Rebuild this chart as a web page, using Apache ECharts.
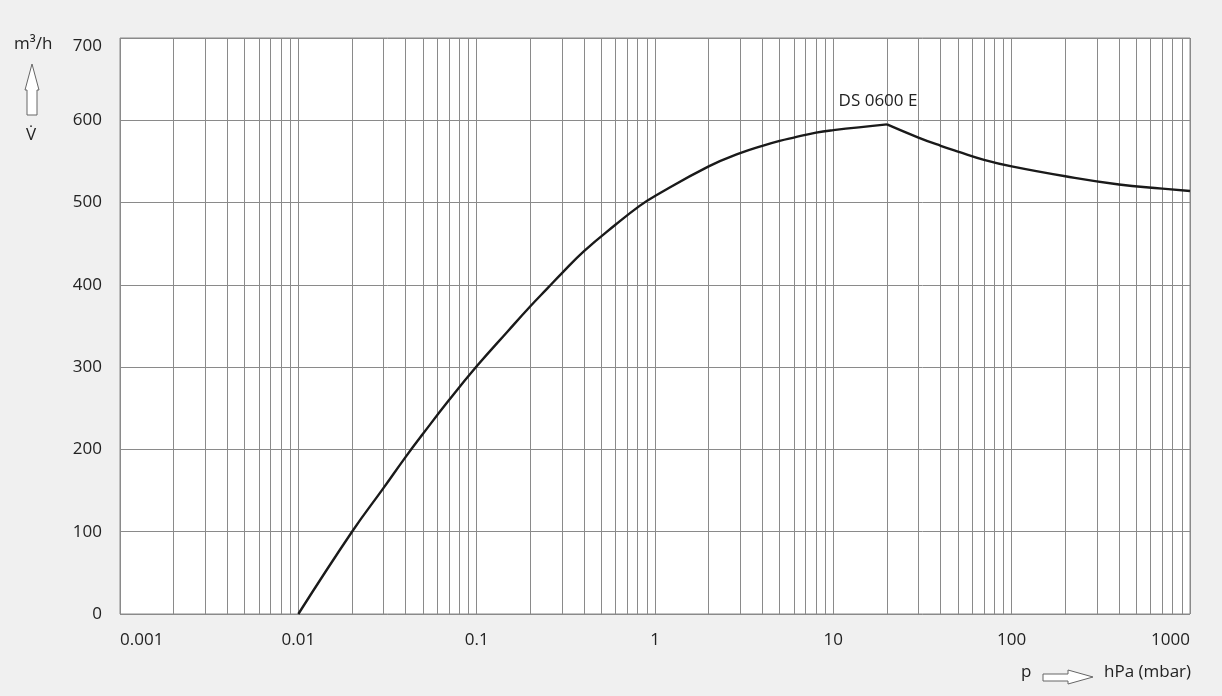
<!DOCTYPE html>
<html>
<head>
<meta charset="utf-8">
<script src="https://cdn.jsdelivr.net/npm/echarts@6/dist/echarts.min.js"></script>
<style>
  html, body { margin: 0; padding: 0; background: #f0f0f0; }
  #mChart { width: 1222px; height: 696px; }
</style>
</head>
<body>
<div id="mChart"></div>
<script>
  // pressure (hPa) and pumping speed (m3/h)
  // rising branch up to the peak, falling branch after it
  var pressureUp = [0.01, 0.02, 0.03, 0.04, 0.05, 0.07, 0.1, 0.15, 0.2, 0.25, 0.3, 0.4, 0.6, 0.82, 1, 2, 3, 4, 5, 6, 8, 10, 20];
  var speedUp    = [0,    100,  153,  191,  219,  260,  301, 344,  374, 396,  414, 441, 473, 496,  508, 544, 560, 569, 575, 579, 585, 588, 595];
  var pressureDown = [20,  30,  40,  50,  70,  100, 200, 400, 700, 1000];
  var speedDown    = [595, 579, 569, 562, 552, 544, 532, 522, 517, 514];
  var yTicks = [0, 100, 200, 300, 400, 500, 600, 700];
  var seriesName = 'DS 0600 E';

  // minor log gridlines at 2..9 of each decade
  var minorLines = [];
  for (var d = -3; d < 3; d++) {
    for (var k = 2; k <= 9; k++) {
      var x = k * Math.pow(10, d);
      minorLines.push({ coords: [[x, 0], [x, 700]] });
    }
  }

  function pairs(xs, ys) {
    return xs.map(function (p, i) { return [p, ys[i]]; });
  }

  var myChart = echarts.init(document.getElementById('mChart'));
  var gridColor = '#8a8a8a';
  var font = '"Open Sans", "Noto Sans", sans-serif';
  var curveStyle = { color: '#1a1a1a', width: 2.4 };

  myChart.setOption({
    backgroundColor: '#f0f0f0',
    animation: false,
    grid: {
      left: 120, right: 32, top: 38, bottom: 82,
      show: true, backgroundColor: '#ffffff', borderColor: gridColor, borderWidth: 1
    },
    xAxis: {
      type: 'log',
      logBase: 10,
      min: 0.001,
      max: 1000,
      axisLine: { show: false },
      axisTick: { show: false },
      splitLine: { show: true, lineStyle: { color: gridColor, width: 1 } },
      axisLabel: {
        color: '#222', fontSize: 17, fontFamily: font, margin: 18,
        alignMinLabel: 'left', alignMaxLabel: 'right',
        formatter: function (v) { return String(+v.toPrecision(3)); }
      }
    },
    yAxis: {
      type: 'value',
      min: 0,
      max: 700,
      interval: 100,
      axisLine: { show: false },
      axisTick: { show: false },
      splitLine: { show: true, lineStyle: { color: gridColor, width: 1 } },
      axisLabel: {
        color: '#222', fontSize: 17, fontFamily: font, margin: 18,
        verticalAlignMaxLabel: 'top',
        formatter: function (v) { return yTicks.indexOf(v) >= 0 ? String(v) : ''; }
      }
    },
    series: [
      {
        name: 'minor',
        type: 'lines',
        coordinateSystem: 'cartesian2d',
        silent: true,
        z: 1,
        lineStyle: { color: gridColor, width: 1, opacity: 1 },
        data: minorLines
      },
      {
        name: seriesName,
        type: 'line',
        data: pairs(pressureUp, speedUp),
        smooth: 0.45,
        showSymbol: false,
        z: 3,
        lineStyle: curveStyle,
        markPoint: {
          symbol: 'circle',
          symbolSize: 0,
          label: {
            show: true, formatter: seriesName, color: '#222', fontSize: 17, fontFamily: font,
            offset: [-9, -23]
          },
          data: [{ coord: [20, 595] }]
        }
      },
      {
        name: seriesName,
        type: 'line',
        data: pairs(pressureDown, speedDown),
        smooth: 0.45,
        showSymbol: false,
        z: 3,
        lineStyle: curveStyle
      }
    ],
    graphic: [
      { type: 'text', left: 14, top: 36, style: { text: 'm³/h', fill: '#222', font: '17px ' + font } },
      {
        type: 'polygon',
        shape: { points: [[32, 64], [39, 90], [37, 90], [37, 115], [27, 115], [27, 90], [25, 90]] },
        style: { fill: '#ffffff', stroke: '#666', lineWidth: 1 }
      },
      { type: 'text', left: 26, top: 127, style: { text: 'V̇', fill: '#222', font: '17px ' + font } },
      { type: 'text', left: 1021, top: 664, style: { text: 'p', fill: '#222', font: '17px ' + font } },
      {
        type: 'polygon',
        shape: { points: [[1043, 674], [1068, 674], [1068, 670], [1093, 677], [1068, 684], [1068, 681], [1043, 681]] },
        style: { fill: '#ffffff', stroke: '#666', lineWidth: 1 }
      },
      { type: 'text', left: 1104, top: 664, style: { text: 'hPa (mbar)', fill: '#222', font: '17px ' + font } }
    ]
  });
</script>
</body>
</html>
